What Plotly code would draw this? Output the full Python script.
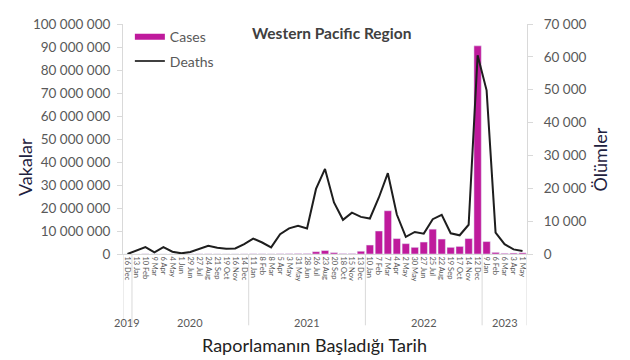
import plotly.graph_objects as go

periods = ["16 Dec",
           "13 Jan", "10 Feb", "9 Mar", "6 Apr", "4 May", "1 Jun", "29 Jun", "27 Jul", "24 Aug", "21 Sep", "19 Oct", "16 Nov", "14 Dec",
           "11 Jan", "8 Feb", "8 Mar", "5 Apr", "3 May", "31 May", "28 Jun", "26 Jul", "23 Aug", "20 Sep", "18 Oct", "15 Nov", "13 Dec",
           "10 Jan", "7 Feb", "7 Mar", "4 Apr", "2 May", "30 May", "27 Jun", "25 Jul", "22 Aug", "19 Sep", "17 Oct", "14 Nov", "12 Dec",
           "9 Jan", "6 Feb", "6 Mar", "3 Apr", "1 May"]
year_labels = ["2019", "2020", "2021", "2022", "2023"]
year_counts = [1, 13, 13, 13, 5]

cases_m = [0.001, 0.01, 0.07, 0.03, 0.02, 0.02, 0.02, 0.05, 0.08, 0.08, 0.05, 0.04, 0.04, 0.06,
           0.10, 0.09, 0.07, 0.12, 0.15, 0.20, 0.20, 1.0, 1.5, 0.6, 0.2, 0.2, 1.2,
           3.9, 10.0, 18.8, 6.7, 4.5, 2.9, 5.2, 10.8, 6.5, 2.9, 3.3, 6.7, 90.5,
           5.4, 0.7, 0.3, 0.4, 0.5]
cases = [v * 1e6 for v in cases_m]
deaths = [0, 1000, 2100, 500, 2100, 700, 200, 600, 1500, 2500, 1900, 1600, 1700, 3000,
          4700, 3500, 2000, 6000, 7800, 8600, 7800, 19800, 25900, 15700, 10400, 12600, 11300,
          10800, 17200, 24600, 12000, 5200, 6700, 6200, 10600, 11900, 6300, 5700, 8900, 60500,
          49800, 6500, 3000, 1400, 900]

BAR = "#BF1A9C"
LINE = "#1E1E1E"
GREY = "#595959"
AX = "#D9D9D9"
FONT = "Lato"

x = list(range(len(periods)))

fig = go.Figure()
fig.add_trace(go.Bar(x=x, y=cases, marker_color=BAR, name="Cases", showlegend=False, yaxis="y"))
fig.add_trace(go.Scatter(x=x, y=deaths, mode="lines", line=dict(color=LINE, width=2),
                         name="Deaths", showlegend=False, yaxis="y2"))
# legend entries (Excel-style wide swatches)
fig.add_trace(go.Scatter(x=[None], y=[None], mode="lines", line=dict(color=BAR, width=6),
                         name="Cases", legendgroup="a", yaxis="y"))
fig.add_trace(go.Scatter(x=[None], y=[None], mode="lines", line=dict(color="#404040", width=2),
                         name="Deaths", legendgroup="b", yaxis="y"))

shapes = []
annotations = []
start = -0.5
bounds = [start]
for lab, cnt in zip(year_labels, year_counts):
    end = start + cnt
    annotations.append(dict(x=(start + end) / 2, y=-0.296, xref="x", yref="paper", text=lab,
                            showarrow=False, font=dict(family=FONT, size=11, color=GREY),
                            xanchor="center", yanchor="middle"))
    start = end
    bounds.append(end)
for b in bounds:
    shapes.append(dict(type="line", xref="x", yref="paper", x0=b, x1=b, y0=0, y1=-0.31,
                       line=dict(color=AX, width=1)))

annotations += [
    dict(text="<b>Western Pacific Region</b>", x=0.517, y=0.961, xref="paper", yref="paper",
         showarrow=False, font=dict(family=FONT, size=15.5, color="#404040"),
         xanchor="center", yanchor="middle"),
    dict(text="Vakalar", x=-0.2426, y=0.378, xref="paper", yref="paper", textangle=-90,
         showarrow=False, font=dict(family=FONT, size=18, color="#1F2240"),
         xanchor="center", yanchor="middle"),
    dict(text="Ölümler", x=1.18, y=0.41, xref="paper", yref="paper", textangle=-90,
         showarrow=False, font=dict(family=FONT, size=18, color="#1F2240"),
         xanchor="center", yanchor="middle"),
    dict(text="Raporlamanın Başladığı Tarih", x=0.475, y=-0.396, xref="paper", yref="paper",
         showarrow=False, font=dict(family=FONT, size=18, color="#222222"),
         xanchor="center", yanchor="middle"),
]

fig.update_layout(
    width=630, height=360,
    margin=dict(l=123, r=103, t=24, b=106),
    paper_bgcolor="white", plot_bgcolor="white",
    separators=". ",
    bargap=0.18,
    font=dict(family=FONT, color=GREY),
    showlegend=True,
    legend=dict(x=0.017, y=1.012, xanchor="left", yanchor="top", bgcolor="rgba(0,0,0,0)",
                font=dict(family=FONT, size=14, color=GREY), tracegroupgap=3,
                itemclick=False),
    xaxis=dict(range=[-0.5, len(periods) - 0.5], tickmode="array", tickvals=x, ticktext=periods,
               tickangle=90, tickfont=dict(family=FONT, size=7.5, color=GREY), showgrid=False,
               showline=True, linecolor=AX, ticks="", zeroline=False, automargin=False),
    yaxis=dict(range=[0, 100e6], dtick=10e6, tickformat=",d", showgrid=False, zeroline=False,
               showline=True, linecolor=AX, ticks="outside", ticklen=5, tickcolor=AX,
               ticklabelstandoff=4,
               tickfont=dict(family=FONT, size=13.5, color=GREY), automargin=False),
    yaxis2=dict(range=[0, 70000], dtick=10000, tickformat=",d", overlaying="y", side="right",
                showgrid=False, zeroline=False, showline=True, linecolor=AX, ticks="outside",
                ticklen=5, tickcolor=AX, ticklabelstandoff=8,
                tickfont=dict(family=FONT, size=13.5, color=GREY), automargin=False),
    shapes=shapes,
    annotations=annotations,
)

fig.write_html("out.html", config={"displayModeBar": False},
               post_script="document.body.style.margin='0';document.body.style.padding='0';")
